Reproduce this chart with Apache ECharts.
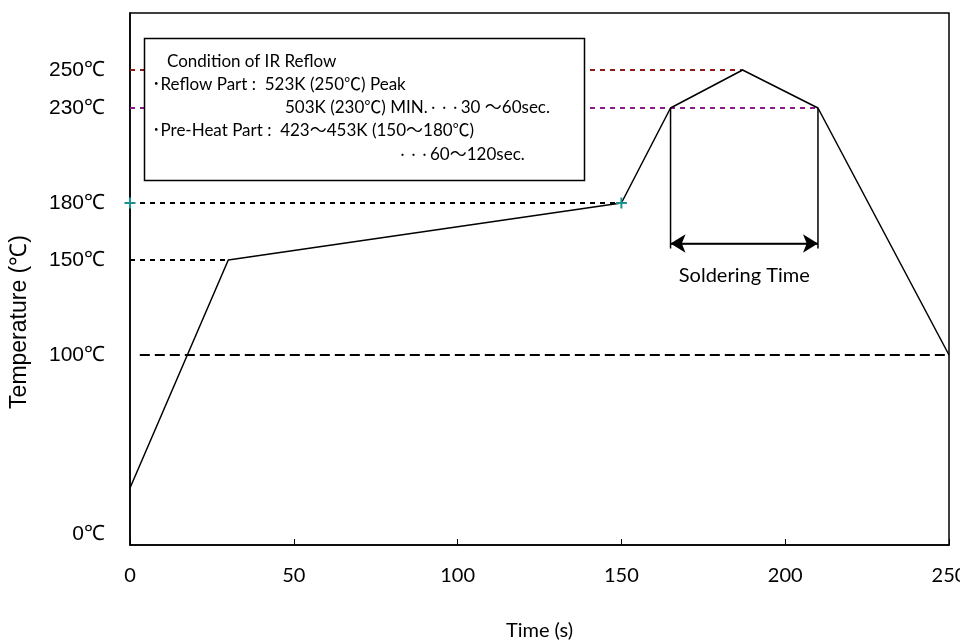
<!DOCTYPE html>
<html>
<head>
<meta charset="utf-8">
<script src="https://cdn.jsdelivr.net/npm/echarts@6/dist/echarts.min.js"></script>
<style>
  html, body { margin: 0; padding: 0; background: #fff; }
  #main { width: 960px; height: 641px; }
</style>
</head>
<body>
<div id="main"></div>
<script>
// reflow profile
var timeS = [0, 30, 150, 165, 187, 210, 250];
var tempC = [30, 150, 180, 230, 250, 230, 100];

var yTickValues = [0, 100, 150, 180, 230, 250];

// reference lines
var peakRef = [[0, 250], [187, 250]];
var minRef = [[0, 230], [210, 230]];
var preHiRef = [[0, 180], [150, 180]];
var preLoRef = [[0, 150], [30, 150]];
var coolRef = [[3, 100], [250, 100]];

var heatMarks = [[0, 180], [150, 180]];

// soldering time bracket
var solderLeft = [[165, 230], [165, 156]];
var solderRight = [[210, 230], [210, 156]];
var solderArrow = [[165, 158.7], [210, 158.7]];
var solderLabel = [[187.5, 142]];

var boxLines = [
  'Condition of IR Reflow',
  '\uFF65Reflow Part :  523K (250\u2103) Peak',
  '503K (230\u2103) MIN.{d|\u30FB\u30FB\u30FB}30 \uFF5E60sec.',
  '\uFF65Pre-Heat Part :  423\uFF5E453K (150\uFF5E180\u2103)',
  '{d|\u30FB\u30FB\u30FB}60\uFF5E120sec.'
];
var boxPos = [[167, 62], [152, 85], [285, 108], [152, 131], [397, 155]];

var chart = echarts.init(document.getElementById('main'));

function refSeries(data, color, dash) {
  return {
    type: 'line',
    data: data,
    showSymbol: false,
    silent: true,
    z: 1,
    lineStyle: { color: color, width: 2, type: dash }
  };
}

function plainLine(data) {
  return {
    type: 'line',
    data: data,
    showSymbol: false,
    silent: true,
    lineStyle: { color: '#000', width: 1.5 }
  };
}

var boxText = boxLines.map(function (t, i) {
  return {
    type: 'text',
    x: boxPos[i][0],
    y: boxPos[i][1],
    z: 11,
    style: {
      text: t,
      fill: '#000',
      font: '17px Lato, "Noto Sans CJK JP", sans-serif',
      verticalAlign: 'middle',
      rich: {
        d: { font: '11px "Noto Sans CJK JP", sans-serif', fill: '#000' }
      }
    }
  };
});

var option = {
  animation: false,
  backgroundColor: '#fff',
  grid: {
    left: 130,
    right: 11,
    top: 13,
    bottom: 96,
    outerBoundsMode: 'none',
    containLabel: false,
    show: true,
    borderColor: '#000',
    borderWidth: 1.5
  },
  xAxis: {
    type: 'value',
    min: 0,
    max: 250,
    interval: 50,
    name: 'Time (s)',
    nameLocation: 'middle',
    nameGap: 76,
    nameTextStyle: { fontFamily: 'Lato', fontSize: 20, color: '#000' },
    axisLine: { show: true, lineStyle: { color: '#000', width: 1.5 } },
    axisTick: { show: true, inside: true, length: 6, lineStyle: { color: '#000' } },
    axisLabel: { fontFamily: 'Lato', fontSize: 20, color: '#000', margin: 21 },
    splitLine: { show: false }
  },
  yAxis: {
    type: 'value',
    min: 0,
    max: 280,
    axisLine: { show: true, lineStyle: { color: '#000', width: 1.5 } },
    axisTick: { show: false },
    axisLabel: {
      customValues: yTickValues,
      formatter: function (v) {
        return v === 0 ? '{z|' + v + '\u2103}' : v + '\u2103';
      },
      fontFamily: 'Liberation Sans',
      fontSize: 21,
      color: '#000',
      margin: 25,
      rich: {
        z: { fontFamily: 'Liberation Sans', fontSize: 21, color: '#000', padding: [0, 0, 22, 0] }
      }
    },
    splitLine: { show: false }
  },
  graphic: [
    {
      type: 'text',
      x: 20,
      y: 322,
      rotation: Math.PI / 2,
      style: {
        text: 'Temperature (\u2103)',
        fill: '#000',
        font: '23px "Liberation Sans", sans-serif',
        align: 'center',
        verticalAlign: 'middle'
      }
    },
    {
      type: 'rect',
      z: 10,
      shape: { x: 144.5, y: 38.5, width: 440, height: 142 },
      style: { fill: '#fff', stroke: '#000', lineWidth: 1.5 }
    }
  ].concat(boxText),
  series: [
    refSeries(peakRef, '#8b1a1a', [5, 5]),
    refSeries(minRef, '#8a1a8a', [5, 5]),
    refSeries(preHiRef, '#000', [5, 5]),
    refSeries(preLoRef, '#000', [5, 5]),
    refSeries(coolRef, '#000', [10, 5]),
    plainLine(solderLeft),
    plainLine(solderRight),
    {
      type: 'line',
      data: timeS.map(function (t, i) { return [t, tempC[i]]; }),
      showSymbol: false,
      z: 3,
      lineStyle: { color: '#000', width: 1.5 }
    },
    {
      type: 'scatter',
      data: heatMarks,
      clip: false,
      symbol: 'path://M5,0L5,10M0,5L10,5',
      symbolSize: 11,
      z: 4,
      itemStyle: { color: 'none', borderColor: '#1f9090', borderWidth: 2, opacity: 1 }
    },
    {
      type: 'line',
      data: solderArrow,
      showSymbol: false,
      lineStyle: { color: '#000', width: 1.5 },
      markLine: {
        silent: true,
        symbol: ['arrow', 'arrow'],
        symbolSize: [14, 15],
        label: { show: false },
        lineStyle: { color: '#000', width: 1.5, type: 'solid' },
        data: [[{ coord: solderArrow[0] }, { coord: solderArrow[1] }]]
      }
    },
    {
      type: 'scatter',
      data: solderLabel,
      symbolSize: 1,
      itemStyle: { color: 'rgba(0,0,0,0)', opacity: 1 },
      label: {
        show: true,
        position: 'inside',
        formatter: 'Soldering Time',
        fontFamily: 'Lato',
        fontSize: 20,
        color: '#000',
        textBorderWidth: 0
      }
    }
  ]
};

chart.setOption(option);
window.addEventListener('resize', function () { chart.resize(); });
</script>
</body>
</html>
